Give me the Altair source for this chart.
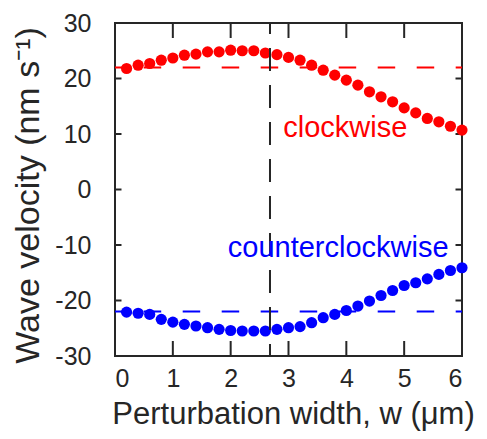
import altair as alt
import pandas as pd

# ---- data ----
w_vals = [0.2, 0.4, 0.6, 0.8, 1.0, 1.2, 1.4, 1.6, 1.8, 2.0,
          2.2, 2.4, 2.6, 2.8, 3.0, 3.2, 3.4, 3.6, 3.8, 4.0,
          4.2, 4.4, 4.6, 4.8, 5.0, 5.2, 5.4, 5.6, 5.8, 6.0]
clockwise = [21.8, 22.4, 22.7, 23.3, 23.7, 24.2, 24.4, 24.8, 24.8, 25.1,
             25.0, 25.0, 24.6, 24.3, 23.8, 23.3, 22.4, 21.5, 20.6, 19.7,
             18.8, 17.6, 16.7, 15.8, 14.7, 13.8, 12.8, 12.2, 11.4, 10.7]
counterclockwise = [-22.1, -22.3, -22.5, -23.4, -23.9, -24.3, -24.6, -24.9, -25.2, -25.4,
                    -25.5, -25.5, -25.5, -25.2, -24.9, -24.7, -24.0, -23.1, -22.5, -21.8,
                    -21.0, -20.1, -19.1, -18.2, -17.3, -16.8, -16.1, -15.3, -14.6, -14.1]
series_names = ["clockwise", "counterclockwise"]
series_colors = ["#ff0000", "#0000ff"]
ref_levels = [22, -22]
w_critical = 2.68
x_ticks = [0, 1, 2, 3, 4, 5, 6]
y_ticks = [-30, -20, -10, 0, 10, 20, 30]
label_x = [2.91, 1.95]
label_y = [9.4, -12.15]

W, H = 347, 333
INK = "#262626"
FONT = "Liberation Sans, Arial, sans-serif"

pts = pd.DataFrame({
    "w": w_vals * 2,
    "v": clockwise + counterclockwise,
    "series": [series_names[0]] * len(w_vals) + [series_names[1]] * len(w_vals),
})
hl = pd.DataFrame({"series": series_names, "v": ref_levels, "x0": [0, 0], "x1": [6, 6]})
vl = pd.DataFrame({"w": [w_critical], "top": [30], "bot": [-30]})
lab = pd.DataFrame({"series": series_names, "w": label_x, "v": label_y})
xt = pd.DataFrame({"t": x_ticks})
yt = pd.DataFrame({"t": y_ticks})

xs = alt.Scale(domain=[0, 6], nice=False, zero=False)
ys = alt.Scale(domain=[-30, 30], nice=False, zero=False)
xaxis = alt.Axis(values=x_ticks, title="Perturbation width, w (μm)", labelPadding=10,
                 titleFontSize=31, titleBaseline="alphabetic",
                 titleY=67, titleX=178, titleAlign="center")
yaxis = alt.Axis(values=y_ticks, title="Wave velocity (nm s⁻¹)", labelPadding=24,
                 labelExpr="'' + datum.value",
                 titleFontSize=34, titleAngle=-90, titleBaseline="alphabetic",
                 titleX=-77, titleY=172, titleAlign="center")
cscale = alt.Scale(domain=series_names, range=series_colors)


def X(f):
    return alt.X(f, type="quantitative", scale=xs, axis=xaxis)


def Y(f):
    return alt.Y(f, type="quantitative", scale=ys, axis=yaxis)


hrules = alt.Chart(hl).mark_rule(strokeWidth=2, strokeDash=[17.5, 21.5], strokeDashOffset=10.3).encode(
    x=X("x0"), x2="x1", y=Y("v"),
    color=alt.Color("series:N", scale=cscale, legend=None))

ticks_b = alt.Chart(xt).mark_rule(color=INK, strokeWidth=2).encode(
    x=X("t"), y=alt.value(H), y2=alt.value(H - 15))
ticks_t = alt.Chart(xt).mark_rule(color=INK, strokeWidth=2).encode(
    x=X("t"), y=alt.value(0), y2=alt.value(15))
ticks_l = alt.Chart(yt).mark_rule(color=INK, strokeWidth=2).encode(
    y=Y("t"), x=alt.value(0), x2=alt.value(6.5))
ticks_r = alt.Chart(yt).mark_rule(color=INK, strokeWidth=2).encode(
    y=Y("t"), x=alt.value(W), x2=alt.value(W - 6.5))

points = alt.Chart(pts).mark_circle(size=125, opacity=1).encode(
    x=X("w"), y=Y("v"),
    color=alt.Color("series:N", scale=cscale, legend=None))

vrule = alt.Chart(vl).mark_rule(color=INK, strokeWidth=2, strokeDash=[23, 14], strokeDashOffset=12).encode(
    x=X("w"), y=Y("top"), y2="bot")

labels = alt.Chart(lab).mark_text(font=FONT, fontSize=29, align="left", baseline="alphabetic").encode(
    x=X("w"), y=Y("v"), text="series:N",
    color=alt.Color("series:N", scale=cscale, legend=None))

chart = alt.layer(hrules, ticks_b, ticks_t, ticks_l, ticks_r, points, vrule, labels).properties(
    width=W, height=H,
    autosize=alt.AutoSizeParams(type="none"),
    padding={"left": 107, "top": 15, "right": 17, "bottom": 75},
    background="white",
).configure_view(
    stroke=INK, strokeWidth=2
).configure_axis(
    grid=False, domain=False, ticks=False, tickSize=0,
    labelFont=FONT, labelFontSize=25, labelColor=INK,
    titleFont=FONT, titleColor=INK, titleFontWeight="normal",
)

chart.save("out.html", embed_options={"renderer": "svg", "actions": False})
